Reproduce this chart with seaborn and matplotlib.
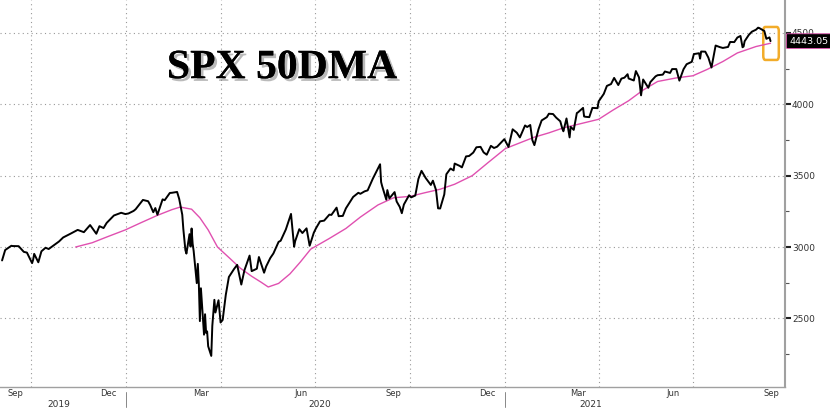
import pandas as pd
import numpy as np
import matplotlib.pyplot as plt
import matplotlib.dates as mdates
import matplotlib.patheffects as pe
from matplotlib.patches import FancyBboxPatch
import seaborn as sns

sns.set_style('white')
plt.rcParams['font.family'] = ['DejaVu Sans']

# SPX closes (weekly plus turning points)
spx_dates = [
    '2019-09-03', '2019-09-06', '2019-09-12', '2019-09-13', '2019-09-19', '2019-09-24', '2019-09-27',
    '2019-10-02', '2019-10-03', '2019-10-04', '2019-10-08', '2019-10-11', '2019-10-15', '2019-10-18',
    '2019-10-25', '2019-10-28', '2019-11-01', '2019-11-08', '2019-11-15', '2019-11-21', '2019-11-27',
    '2019-12-03', '2019-12-06', '2019-12-10', '2019-12-13', '2019-12-20', '2019-12-27', '2019-12-31',
    '2020-01-03', '2020-01-08', '2020-01-10', '2020-01-17', '2020-01-22', '2020-01-24', '2020-01-27',
    '2020-01-29', '2020-01-31', '2020-02-05', '2020-02-07', '2020-02-12', '2020-02-14', '2020-02-19',
    '2020-02-21', '2020-02-24', '2020-02-25', '2020-02-27', '2020-02-28', '2020-03-02', '2020-03-03',
    '2020-03-04', '2020-03-05', '2020-03-06', '2020-03-09', '2020-03-10', '2020-03-11', '2020-03-12',
    '2020-03-13', '2020-03-16', '2020-03-17', '2020-03-18', '2020-03-19', '2020-03-20', '2020-03-23',
    '2020-03-24', '2020-03-26', '2020-03-27', '2020-03-30', '2020-04-01', '2020-04-03', '2020-04-06',
    '2020-04-08', '2020-04-09', '2020-04-14', '2020-04-17', '2020-04-21', '2020-04-24', '2020-04-29',
    '2020-05-01', '2020-05-06', '2020-05-08', '2020-05-13', '2020-05-15', '2020-05-19', '2020-05-22',
    '2020-05-27', '2020-05-29', '2020-06-03', '2020-06-08', '2020-06-11', '2020-06-12', '2020-06-16',
    '2020-06-19', '2020-06-23', '2020-06-26', '2020-06-30', '2020-07-02', '2020-07-06', '2020-07-10',
    '2020-07-15', '2020-07-17', '2020-07-22', '2020-07-24', '2020-07-28', '2020-07-31', '2020-08-05',
    '2020-08-07', '2020-08-12', '2020-08-14', '2020-08-18', '2020-08-21', '2020-08-26', '2020-08-28',
    '2020-09-02', '2020-09-03', '2020-09-04', '2020-09-08', '2020-09-09', '2020-09-11', '2020-09-16',
    '2020-09-18', '2020-09-21', '2020-09-23', '2020-09-25', '2020-09-30', '2020-10-02', '2020-10-06',
    '2020-10-09', '2020-10-12', '2020-10-16', '2020-10-21', '2020-10-23', '2020-10-26', '2020-10-28',
    '2020-10-30', '2020-11-03', '2020-11-05', '2020-11-09', '2020-11-12', '2020-11-13', '2020-11-18',
    '2020-11-20', '2020-11-24', '2020-11-27', '2020-12-01', '2020-12-04', '2020-12-08', '2020-12-11',
    '2020-12-14', '2020-12-18', '2020-12-21', '2020-12-24', '2020-12-31',
    '2021-01-04', '2021-01-08', '2021-01-12', '2021-01-15', '2021-01-20', '2021-01-22', '2021-01-25',
    '2021-01-27', '2021-01-29', '2021-02-02', '2021-02-05', '2021-02-10', '2021-02-12', '2021-02-16',
    '2021-02-19', '2021-02-23', '2021-02-25', '2021-02-26', '2021-03-01', '2021-03-04', '2021-03-05',
    '2021-03-08', '2021-03-11', '2021-03-12', '2021-03-17', '2021-03-18', '2021-03-19', '2021-03-23',
    '2021-03-26', '2021-03-31', '2021-04-01', '2021-04-06', '2021-04-09', '2021-04-13', '2021-04-16',
    '2021-04-20', '2021-04-23', '2021-04-26', '2021-04-29', '2021-04-30', '2021-05-05', '2021-05-07',
    '2021-05-10', '2021-05-12', '2021-05-14', '2021-05-19', '2021-05-21', '2021-05-26', '2021-05-28',
    '2021-06-02', '2021-06-04', '2021-06-09', '2021-06-11', '2021-06-15', '2021-06-18', '2021-06-22',
    '2021-06-25', '2021-06-30', '2021-07-02', '2021-07-07', '2021-07-08', '2021-07-09', '2021-07-13',
    '2021-07-16', '2021-07-19', '2021-07-23', '2021-07-27', '2021-07-30', '2021-08-04', '2021-08-06',
    '2021-08-10', '2021-08-13', '2021-08-16', '2021-08-18', '2021-08-19', '2021-08-20', '2021-08-24',
    '2021-08-27', '2021-08-31', '2021-09-02', '2021-09-03', '2021-09-08', '2021-09-10', '2021-09-13',
    '2021-09-14',
]
spx_close = [
    2906, 2979, 3009, 3007, 3006, 2966, 2961,
    2887, 2911, 2952, 2893, 2970, 2995, 2986,
    3023, 3039, 3067, 3093, 3120, 3104, 3154,
    3093, 3146, 3133, 3169, 3221, 3240, 3231,
    3235, 3253, 3265, 3330, 3321, 3295, 3244,
    3273, 3226, 3334, 3328, 3379, 3380, 3386,
    3338, 3226, 3128, 2979, 2954, 3090, 3003,
    3130, 3024, 2972, 2747, 2882, 2741, 2481,
    2711, 2386, 2529, 2398, 2409, 2305, 2237,
    2447, 2630, 2541, 2627, 2471, 2489, 2664,
    2750, 2790, 2846, 2875, 2737, 2837, 2940,
    2831, 2848, 2930, 2820, 2864, 2923, 2955,
    3036, 3044, 3123, 3232, 3002, 3041, 3125,
    3098, 3131, 3009, 3100, 3130, 3180, 3185,
    3227, 3225, 3276, 3216, 3218, 3271, 3328,
    3351, 3380, 3373, 3390, 3397, 3479, 3508,
    3580, 3455, 3427, 3332, 3399, 3341, 3385,
    3319, 3281, 3237, 3298, 3363, 3348, 3361,
    3477, 3534, 3484, 3435, 3465, 3400, 3271,
    3270, 3369, 3510, 3550, 3537, 3585, 3568,
    3558, 3635, 3638, 3662, 3699, 3702, 3663,
    3647, 3709, 3694, 3703, 3756,
    3701, 3825, 3801, 3768, 3852, 3841, 3855,
    3750, 3714, 3826, 3887, 3910, 3934, 3932,
    3907, 3881, 3829, 3811, 3901, 3768, 3842,
    3821, 3939, 3943, 3975, 3915, 3913, 3910,
    3975, 3973, 4020, 4073, 4129, 4142, 4185,
    4135, 4180, 4187, 4211, 4181, 4167, 4233,
    4189, 4063, 4174, 4116, 4156, 4196, 4204,
    4208, 4230, 4220, 4247, 4247, 4166, 4246,
    4281, 4298, 4352, 4358, 4320, 4370, 4369,
    4327, 4258, 4412, 4401, 4395, 4402, 4437,
    4436, 4468, 4479, 4400, 4405, 4442, 4486,
    4509, 4523, 4537, 4535, 4514, 4459, 4469,
    4443.05,
]

# 50-day moving average (pink line)
dma_dates = [
    '2019-11-13', '2019-11-29', '2019-12-13', '2019-12-31', '2020-01-15', '2020-01-31',
    '2020-02-14', '2020-02-22', '2020-03-04', '2020-03-12', '2020-03-20', '2020-03-29',
    '2020-04-10', '2020-04-20', '2020-05-01', '2020-05-10', '2020-05-17', '2020-05-27',
    '2020-06-07', '2020-06-17', '2020-06-27', '2020-07-15', '2020-07-31', '2020-08-14',
    '2020-08-31', '2020-09-15', '2020-10-01', '2020-10-15', '2020-10-30', '2020-11-13',
    '2020-11-30', '2020-12-15', '2021-01-01', '2021-01-15', '2021-01-29', '2021-02-12',
    '2021-02-26', '2021-03-15', '2021-04-01', '2021-04-15', '2021-04-30', '2021-05-14',
    '2021-05-28', '2021-06-15', '2021-07-01', '2021-07-15', '2021-07-30', '2021-08-13',
    '2021-08-31', '2021-09-14',
]
dma_values = [
    3000, 3030, 3070, 3120, 3170, 3222,
    3262, 3280, 3265, 3205, 3120, 3000,
    2920, 2852, 2795, 2754, 2720, 2745,
    2812, 2895, 2985, 3060, 3130, 3210,
    3295, 3345, 3355, 3380, 3405, 3440,
    3500, 3590, 3690, 3730, 3770, 3800,
    3835, 3865, 3895, 3960, 4025, 4100,
    4160, 4185, 4200, 4245, 4300, 4360,
    4405, 4428,
]

y_ticks = [2500, 3000, 3500, 4000, 4500]
month_labels = ['Sep', 'Dec', 'Mar', 'Jun', 'Sep', 'Dec', 'Mar', 'Jun', 'Sep']
month_label_dates = ['2019-09-16', '2019-12-15', '2020-03-13', '2020-06-18', '2020-09-15',
                     '2020-12-15', '2021-03-12', '2021-06-12', '2021-09-15']
year_labels = ['2019', '2020', '2021']
year_label_dates = ['2019-10-28', '2020-07-06', '2021-03-24']
last_price = 4443.05

spx = pd.DataFrame({'date': pd.to_datetime(spx_dates), 'close': spx_close})
dma = pd.DataFrame({'date': pd.to_datetime(dma_dates), 'ma': dma_values})

fig = plt.figure(figsize=(8.3, 4.11), dpi=100)
ax = fig.add_axes([0.0, 0.058, 0.9458, 0.942])

sns.lineplot(data=dma, x='date', y='ma', color='#e050b0', linewidth=1.0, ax=ax)
sns.lineplot(data=spx, x='date', y='close', color='black', linewidth=1.4, ax=ax)

ax.set_xlim(pd.Timestamp('2019-09-01'), pd.Timestamp('2021-09-28'))
ax.set_ylim(2018, 4731)
ax.set_xlabel('')
ax.set_ylabel('')

# y axis on the right
ax.yaxis.tick_right()
ax.set_yticks(y_ticks)
ax.set_yticklabels([str(v) for v in y_ticks], fontsize=6.5, color='#333333')
ax.set_yticks([2250, 2750, 3250, 3750, 4250], minor=True)
ax.tick_params(axis='y', which='major', direction='out', length=4, width=1.5, color='#222222', pad=1)
ax.tick_params(axis='y', which='minor', direction='out', length=3, width=0.8, color='#555555')

# x axis: quarter gridlines, monthly minor ticks
ax.xaxis.set_major_locator(mdates.MonthLocator(bymonth=[1, 4, 7, 10]))
ax.xaxis.set_minor_locator(mdates.MonthLocator())
ax.xaxis.set_major_formatter(plt.NullFormatter())
ax.tick_params(axis='x', which='both', direction='in', length=3, width=0.8, color='#888888')

ax.grid(True, which='major', color='#999999', linestyle=(0, (1, 3)), linewidth=0.8)

for side in ['top', 'left']:
    ax.spines[side].set_visible(False)
ax.spines['right'].set_color('#a0a0a0')
ax.spines['right'].set_linewidth(1.5)
ax.spines['bottom'].set_color('#a0a0a0')
ax.spines['bottom'].set_linewidth(1.0)

xtrans = ax.get_xaxis_transform()
for lab, d in zip(month_labels, month_label_dates):
    ax.text(pd.Timestamp(d), -0.004, lab, transform=xtrans, ha='center', va='top',
            fontsize=6, color='#333333')
for lab, d in zip(year_labels, year_label_dates):
    ax.text(pd.Timestamp(d), -0.046, lab, transform=xtrans, ha='center', va='center',
            fontsize=6.5, color='#333333')
for d in ['2020-01-01', '2021-01-01']:
    ax.axvline(pd.Timestamp(d), ymin=-0.05, ymax=-0.012, clip_on=False, color='#888888', linewidth=0.7)

# title with shadow
ax.text(0.359, 0.824, 'SPX 50DMA', transform=ax.transAxes, ha='center', va='center',
        fontsize=30, fontweight='bold', family='Liberation Serif', color='black',
        path_effects=[pe.withSimplePatchShadow(offset=(2, -2), shadow_rgbFace='#777777', alpha=0.5),
                      pe.Normal()])

# last price tag
ax.annotate(f'{last_price:.2f}', xy=(1.0, last_price), xycoords=('axes fraction', 'data'),
            xytext=(3, 0), textcoords='offset points', ha='left', va='center',
            fontsize=6.8, color='white', annotation_clip=False,
            bbox=dict(boxstyle='round,pad=0.3,rounding_size=0.1', fc='black', ec='#e050b0', lw=0.6))

# orange highlight box around the latest move
hl = FancyBboxPatch((mdates.date2num(pd.Timestamp('2021-09-07')), 4311),
                    mdates.date2num(pd.Timestamp('2021-09-22')) - mdates.date2num(pd.Timestamp('2021-09-07')),
                    231, boxstyle='round,pad=0,rounding_size=2', fill=False,
                    edgecolor='#f2ac2a', linewidth=1.8, mutation_aspect=15)
ax.add_patch(hl)

plt.savefig('out.png', dpi=100)
